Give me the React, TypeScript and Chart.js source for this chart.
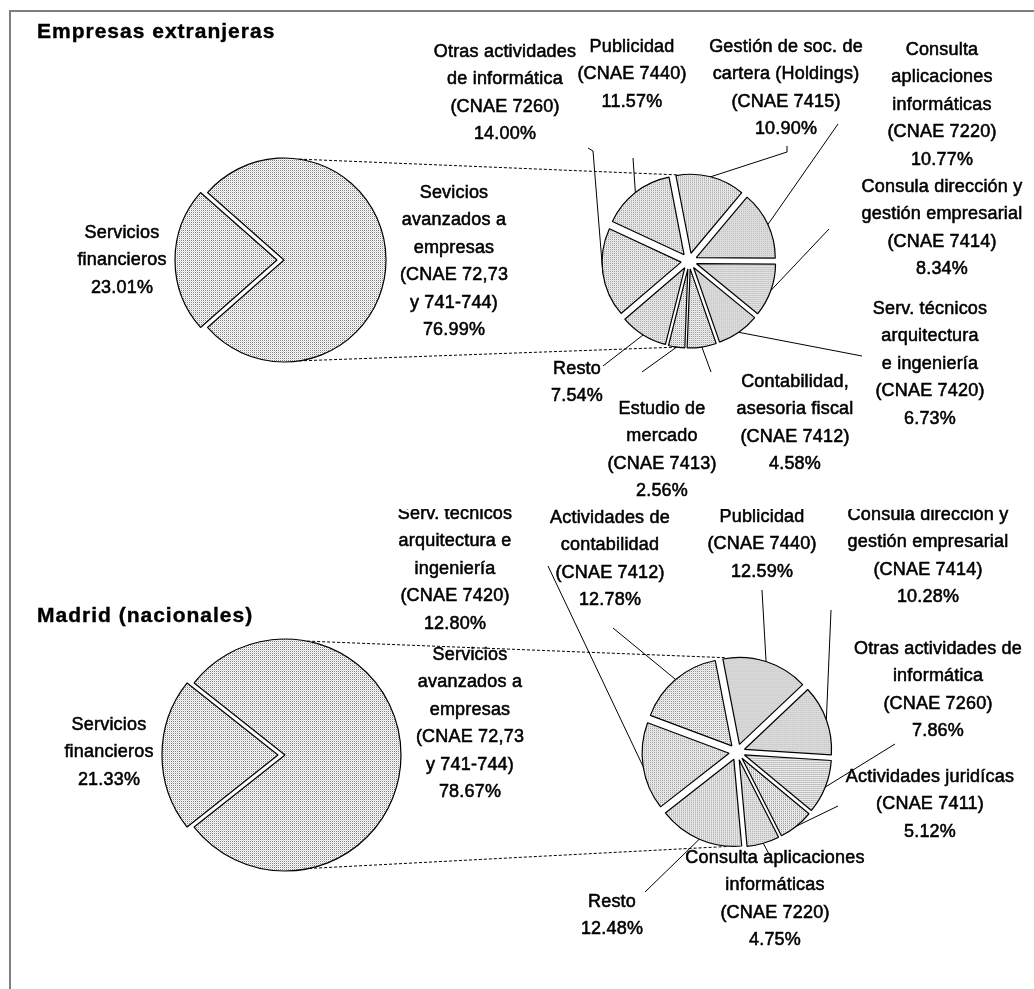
import React, { useEffect, useRef } from 'react';
import { Chart, registerables } from 'chart.js';

Chart.register(...registerables);

const W = 1034;

// ---------- Data: Empresas extranjeras ----------
const extMainLabels = ['Sevicios avanzados a empresas (CNAE 72,73 y 741-744)', 'Servicios financieros'];
const extMainValues = [76.99, 23.01];
const extMainText = [
  ['Sevicios', 'avanzados a', 'empresas', '(CNAE 72,73', 'y 741-744)'],
  ['Servicios', 'financieros'],
];
const extDetailText = [
  ['Gestión de soc. de', 'cartera (Holdings)', '(CNAE 7415)'],
  ['Consulta', 'aplicaciones', 'informáticas', '(CNAE 7220)'],
  ['Consula dirección y', 'gestión empresarial', '(CNAE 7414)'],
  ['Serv. técnicos', 'arquitectura', 'e ingeniería', '(CNAE 7420)'],
  ['Contabilidad,', 'asesoria fiscal', '(CNAE 7412)'],
  ['Estudio de', 'mercado', '(CNAE 7413)'],
  ['Resto'],
  ['Otras actividades', 'de informática', '(CNAE 7260)'],
  ['Publicidad', '(CNAE 7440)'],
];
const extDetailValues = [10.9, 10.77, 8.34, 6.73, 4.58, 2.56, 7.54, 14.0, 11.57];

// ---------- Data: Madrid (nacionales) ----------
const madMainLabels = ['Servicios avanzados a empresas (CNAE 72,73 y 741-744)', 'Servicios financieros'];
const madMainValues = [78.67, 21.33];
const madMainText = [
  ['Servicios', 'avanzados a', 'empresas', '(CNAE 72,73', 'y 741-744)'],
  ['Servicios', 'financieros'],
];
const madDetailText = [
  ['Publicidad', '(CNAE 7440)'],
  ['Consula dirección y', 'gestión empresarial', '(CNAE 7414)'],
  ['Otras actividades de', 'informática', '(CNAE 7260)'],
  ['Actividades juridícas', '(CNAE 7411)'],
  ['Consulta aplicaciones', 'informáticas', '(CNAE 7220)'],
  ['Resto'],
  ['Serv. técnicos', 'arquitectura e', 'ingeniería', '(CNAE 7420)'],
  ['Actividades de', 'contabilidad', '(CNAE 7412)'],
];
const madDetailValues = [12.59, 10.28, 7.86, 5.12, 4.75, 12.48, 12.8, 12.78];

// ---------- Layout (page coordinates) ----------
const extLayout = {
  top: 0,
  height: 505,
  title: 'Empresas extranjeras',
  titlePos: [37, 32],
  big: { cx: 284, cy: 260, r: 102, explode: [0, 7] },
  small: { cx: 689, cy: 261, r: 79, explode: 8, rotation: -11 },
  mainPos: [[454, 193], [122, 233]],
  detailPos: [[786, 47], [942, 50], [942, 187], [930, 309], [795, 382], [662, 409], [577, 369], [505, 52], [632, 47]],
  leaders: [
    [[787, 146], [787, 152]],
    [[838, 124]],
    [[829, 229]],
    [[862, 356]],
    [[711, 372]],
    [[642, 372]],
    [[603, 366]],
    [[588, 148], [593, 151]],
    [[633, 158]],
  ],
  bigConn: [8.5, 171.5],
  smallConn: [-8, 188],
};

const madLayout = {
  top: 509,
  height: 480,
  title: 'Madrid (nacionales)',
  titlePos: [37, 616],
  big: { cx: 285, cy: 755, r: 116, explode: [0, 7] },
  small: { cx: 737, cy: 752, r: 87, explode: 8, rotation: -11 },
  mainPos: [[470, 655], [109, 725]],
  detailPos: [[762, 517], [928, 515], [938, 649], [930, 777], [775, 858], [612, 902], [455, 514], [610, 518]],
  leaders: [
    [[762, 590]],
    [[831, 610]],
    [[895, 744]],
    [[838, 806]],
    [[770, 856]],
    [[645, 892]],
    [[548, 566]],
    [[613, 628]],
  ],
  bigConn: [11, 168],
  smallConn: [-7, 186],
};

const LABEL_FONT = '18px "Liberation Sans", Arial, sans-serif';
const TITLE_FONT = 'bold 21px "Liberation Sans", Arial, sans-serif';
const LINE_H = 27.5;

function makePattern(ctx: CanvasRenderingContext2D) {
  const t = document.createElement('canvas');
  t.width = 2;
  t.height = 2;
  const c = t.getContext('2d')!;
  c.fillStyle = '#ffffff';
  c.fillRect(0, 0, 2, 2);
  c.fillStyle = '#808080';
  c.fillRect(0, 0, 1, 1);
  c.fillStyle = '#d8d8d8';
  c.fillRect(1, 1, 1, 1);
  return ctx.createPattern(t, 'repeat')!;
}

function pad(cx: number, cy: number, half: number, top: number, h: number) {
  const y = cy - top;
  return { left: cx - half, right: W - (cx + half), top: y - half, bottom: h - (y + half) };
}

function pct(v: number) {
  return v.toFixed(2) + '%';
}

function drawLines(ctx: CanvasRenderingContext2D, lines: string[], x: number, y: number) {
  ctx.save();
  ctx.font = LABEL_FONT;
  (ctx as any).letterSpacing = '0.2px';
  ctx.fillStyle = '#000';
  ctx.strokeStyle = '#000';
  ctx.lineWidth = 0.55;
  ctx.textAlign = 'center';
  ctx.textBaseline = 'middle';
  lines.forEach((l, k) => {
    ctx.fillText(l, x, y + k * LINE_H);
    ctx.strokeText(l, x, y + k * LINE_H);
  });
  ctx.restore();
}

function explodePlugin(amounts: number[]) {
  return {
    id: 'explodeSlices',
    beforeDatasetDraw(chart: any, args: any) {
      args.meta.data.forEach((arc: any, i: number) => {
        if (arc.__exploded) return;
        const orig = arc.draw;
        arc.draw = function (ctx: CanvasRenderingContext2D, area: any) {
          const mid = (this.startAngle + this.endAngle) / 2;
          const d = amounts[i] || 0;
          ctx.save();
          ctx.translate(Math.cos(mid) * d, Math.sin(mid) * d);
          orig.call(this, ctx, area);
          ctx.restore();
        };
        arc.__exploded = true;
      });
    },
  };
}

function Section(props: {
  layout: any;
  mainLabels: string[];
  mainValues: number[];
  mainText: string[][];
  detailText: string[][];
  detailValues: number[];
}) {
  const { layout, mainLabels, mainValues, mainText, detailText, detailValues } = props;
  const bigRef = useRef<HTMLCanvasElement>(null);
  const smallRef = useRef<HTMLCanvasElement>(null);

  useEffect(() => {
    const top = layout.top;
    const H = layout.height;
    const bigCanvas = bigRef.current!;
    const smallCanvas = smallRef.current!;
    const total = mainValues.reduce((a, b) => a + b, 0);
    const bigRotation = 270 - (360 * mainValues[0]) / total - (180 * mainValues[1]) / total;

    const bigLabels = {
      id: 'bigLabels',
      afterDraw(chart: any) {
        const ctx = chart.ctx as CanvasRenderingContext2D;
        ctx.save();
        ctx.font = TITLE_FONT;
        (ctx as any).letterSpacing = '1px';
        ctx.fillStyle = '#000';
        ctx.strokeStyle = '#000';
        ctx.lineWidth = 0.4;
        ctx.textAlign = 'left';
        ctx.textBaseline = 'middle';
        ctx.fillText(layout.title, layout.titlePos[0], layout.titlePos[1] - top);
        ctx.strokeText(layout.title, layout.titlePos[0], layout.titlePos[1] - top);
        ctx.restore();
        mainText.forEach((lines, i) => {
          const p = layout.mainPos[i];
          drawLines(ctx, [...lines, pct(mainValues[i])], p[0], p[1] - top);
        });
      },
    };

    const big = new Chart(bigCanvas, {
      type: 'pie',
      data: {
        labels: mainLabels,
        datasets: [
          {
            data: mainValues,
            backgroundColor: makePattern(bigCanvas.getContext('2d')!),
            borderColor: '#000',
            borderWidth: 1.2,
          },
        ],
      },
      options: {
        animation: false,
        responsive: false,
        events: [],
        rotation: bigRotation,
        radius: layout.big.r,
        layout: { padding: pad(layout.big.cx, layout.big.cy, layout.big.r + 20, top, H) },
        plugins: { legend: { display: false }, tooltip: { enabled: false } },
      } as any,
      plugins: [explodePlugin(layout.big.explode), bigLabels],
    });

    const smallExplode = detailValues.map(() => layout.small.explode);

    const smallLabels = {
      id: 'smallLabels',
      afterDraw(chart: any) {
        const ctx = chart.ctx as CanvasRenderingContext2D;
        const arcs = chart.getDatasetMeta(0).data;
        ctx.save();
        ctx.strokeStyle = '#000';
        ctx.lineWidth = 1;
        arcs.forEach((arc: any, i: number) => {
          const mid = (arc.startAngle + arc.endAngle) / 2;
          const R = arc.outerRadius + smallExplode[i];
          const ex = arc.x + Math.cos(mid) * R;
          const ey = arc.y + Math.sin(mid) * R;
          const pts = layout.leaders[i];
          ctx.beginPath();
          ctx.moveTo(pts[0][0], pts[0][1] - top);
          for (let k = 1; k < pts.length; k++) ctx.lineTo(pts[k][0], pts[k][1] - top);
          ctx.lineTo(ex, ey);
          ctx.stroke();
        });
        // series lines between the two pies
        const bArc: any = big.getDatasetMeta(0).data[0];
        const sArc: any = arcs[0];
        const sR = sArc.outerRadius + layout.small.explode;
        ctx.setLineDash([3, 2]);
        for (let k = 0; k < 2; k++) {
          const a1 = (layout.bigConn[k] * Math.PI) / 180;
          const a2 = (layout.smallConn[k] * Math.PI) / 180;
          ctx.beginPath();
          ctx.moveTo(bArc.x + Math.sin(a1) * bArc.outerRadius, bArc.y - Math.cos(a1) * bArc.outerRadius);
          ctx.lineTo(sArc.x + Math.sin(a2) * sR, sArc.y - Math.cos(a2) * sR);
          ctx.stroke();
        }
        ctx.restore();
        detailText.forEach((lines, i) => {
          const p = layout.detailPos[i];
          drawLines(ctx, [...lines, pct(detailValues[i])], p[0], p[1] - top);
        });
      },
    };

    const small = new Chart(smallCanvas, {
      type: 'pie',
      data: {
        labels: detailText.map((l) => l.join(' ')),
        datasets: [
          {
            data: detailValues,
            backgroundColor: makePattern(smallCanvas.getContext('2d')!),
            borderColor: '#000',
            borderWidth: 1.2,
          },
        ],
      },
      options: {
        animation: false,
        responsive: false,
        events: [],
        rotation: layout.small.rotation,
        radius: layout.small.r,
        layout: { padding: pad(layout.small.cx, layout.small.cy, layout.small.r + 14, top, H) },
        plugins: { legend: { display: false }, tooltip: { enabled: false } },
      } as any,
      plugins: [explodePlugin(smallExplode), smallLabels],
    });

    return () => {
      small.destroy();
      big.destroy();
    };
  }, []);

  const cs: React.CSSProperties = { position: 'absolute', left: 0, top: 0, width: W, height: layout.height };
  return (
    <div style={{ position: 'absolute', left: 0, top: layout.top, width: W, height: layout.height, overflow: 'hidden' }}>
      <canvas ref={bigRef} width={W} height={layout.height} style={cs} />
      <canvas ref={smallRef} width={W} height={layout.height} style={cs} />
    </div>
  );
}

export default function App() {
  return (
    <div style={{ position: 'absolute', left: 0, top: 0, width: W, height: 989, background: '#fff', overflow: 'hidden' }}>
      <Section
        layout={extLayout}
        mainLabels={extMainLabels}
        mainValues={extMainValues}
        mainText={extMainText}
        detailText={extDetailText}
        detailValues={extDetailValues}
      />
      <Section
        layout={madLayout}
        mainLabels={madMainLabels}
        mainValues={madMainValues}
        mainText={madMainText}
        detailText={madDetailText}
        detailValues={madDetailValues}
      />
      <div
        style={{
          position: 'absolute',
          left: 9,
          top: 10,
          width: 1025,
          height: 979,
          borderTop: '2px solid #7f7f7f',
          borderLeft: '2px solid #7f7f7f',
          boxSizing: 'border-box',
          pointerEvents: 'none',
        }}
      />
    </div>
  );
}
